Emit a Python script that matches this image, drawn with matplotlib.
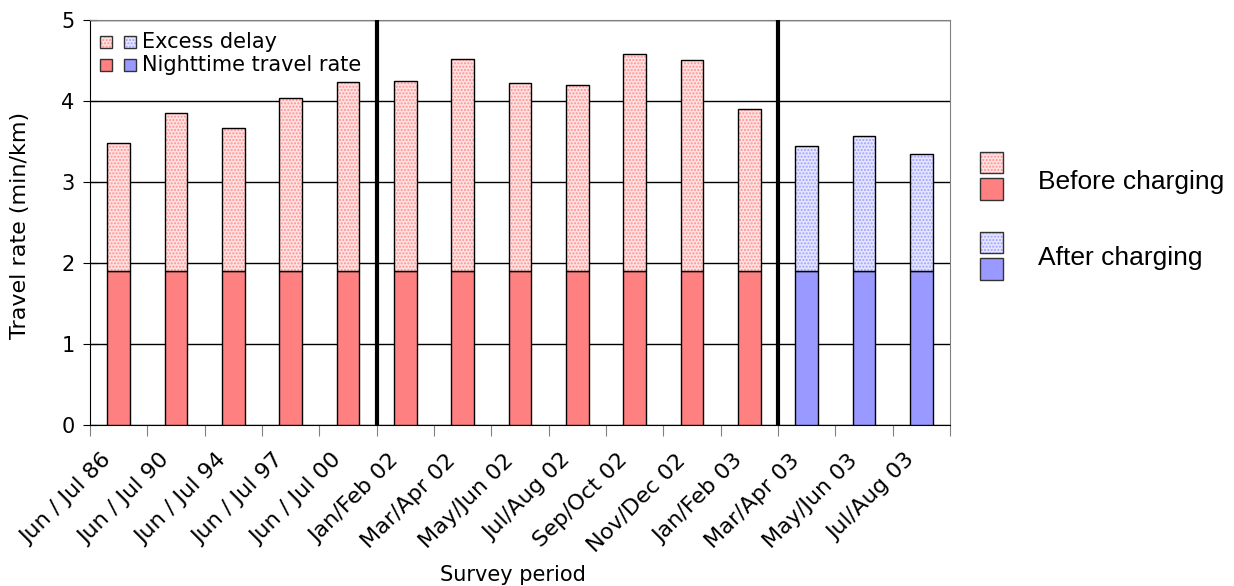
import matplotlib
matplotlib.use("Agg")
import matplotlib.pyplot as plt
from matplotlib.patches import Rectangle
import numpy as np

categories = ["Jun / Jul 86", "Jun / Jul 90", "Jun / Jul 94", "Jun / Jul 97", "Jun / Jul 00",
              "Jan/Feb 02", "Mar/Apr 02", "May/Jun 02", "Jul/Aug 02", "Sep/Oct 02",
              "Nov/Dec 02", "Jan/Feb 03", "Mar/Apr 03", "May/Jun 03", "Jul/Aug 03"]
totals = [3.48, 3.85, 3.67, 4.04, 4.24, 4.25, 4.52, 4.22, 4.20, 4.58, 4.51, 3.90, 3.45, 3.57, 3.34]
night = [1.9] * 15
after = [False] * 12 + [True] * 3

plt.rcParams['font.family'] = ['DejaVu Sans']
plt.rcParams['hatch.linewidth'] = 1.0
fig = plt.figure(figsize=(12.34, 5.86), dpi=100)
ax = fig.add_axes([90/1234, 1-425/586, 860/1234, 405/586])

x = np.arange(len(categories))
excess = [t - n for t, n in zip(totals, night)]
solid_c = ['#9999FF' if a else '#FF8080' for a in after]
light_c = ['#E6E6FF' if a else '#FFE2E2' for a in after]
hatch_c = ['#A0A0FF' if a else '#FF9090' for a in after]
for i in range(len(x)):
    ax.bar(x[i], night[i], width=0.4, color=solid_c[i], edgecolor='black', linewidth=1, zorder=3)
    ax.bar(x[i], excess[i], bottom=night[i], width=0.4, facecolor=light_c[i], edgecolor=hatch_c[i],
           hatch='.....', linewidth=0, zorder=3)
    ax.bar(x[i], excess[i], bottom=night[i], width=0.4, facecolor='none', edgecolor='black',
           linewidth=1, zorder=3.5)

ax.set_xlim(-0.5, len(x) - 0.5)
ax.set_ylim(0, 5)
ax.set_yticks([0, 1, 2, 3, 4, 5])
ax.yaxis.grid(True, color='black', linewidth=1, zorder=1)
ax.set_xticks(np.arange(-0.5, len(x) + 0.5, 1))
ax.set_xticklabels([])
ax.set_xticks(x - 0.3, minor=True)
ax.set_xticklabels(categories, minor=True, rotation=45, ha='right', rotation_mode='anchor', fontsize=16)
ax.tick_params(axis='x', which='minor', length=0, pad=18)
ax.tick_params(axis='x', which='major', length=8, direction='out', color='#808080')
ax.tick_params(axis='y', direction='inout', length=10, labelsize=15, pad=6)
for s in ['top', 'right']:
    ax.spines[s].set_color('#808080')
ax.spines['bottom'].set_color('black')
ax.spines['left'].set_color('black')

ax.axvline(4.5, color='black', linewidth=3, zorder=4)
ax.axvline(11.5, color='black', linewidth=3, zorder=4)

fig.text(20/1234, 1-225/586, "Travel rate (min/km)", fontsize=16, rotation=90, va='center', ha='center')
fig.text(513/1234, 1-575/586, "Survey period", fontsize=15, va='center', ha='center')

def fig_rect(x0, y0, w, h, face, hatch=None, hc=None):
    if hatch:
        fig.patches.append(Rectangle((x0/1234, 1-(y0+h)/586), w/1234, h/586, transform=fig.transFigure,
                                     facecolor=face, edgecolor=hc, hatch=hatch, linewidth=0, zorder=5))
        fig.patches.append(Rectangle((x0/1234, 1-(y0+h)/586), w/1234, h/586, transform=fig.transFigure,
                                     facecolor='none', edgecolor='#333333', linewidth=1, zorder=5.5))
    else:
        fig.patches.append(Rectangle((x0/1234, 1-(y0+h)/586), w/1234, h/586, transform=fig.transFigure,
                                     facecolor=face, edgecolor='#333333', linewidth=1, zorder=5))

# top-left legend
fig_rect(100, 36, 12, 12, '#FFE2E2', '.....', '#FF9090')
fig_rect(124, 36, 12, 12, '#E6E6FF', '.....', '#A0A0FF')
fig_rect(100, 59, 12, 12, '#FF8080')
fig_rect(124, 59, 12, 12, '#9999FF')
fig.text(142/1234, 1-42/586, "Excess delay", fontsize=15, va='center', ha='left')
fig.text(142/1234, 1-65/586, "Nighttime travel rate", fontsize=15, va='center', ha='left')

# right legend
fig_rect(980, 152, 23, 21, '#FFE2E2', '.....', '#FF9090')
fig_rect(980, 178, 23, 22, '#FF8080')
fig_rect(980, 232, 23, 21, '#E6E6FF', '.....', '#A0A0FF')
fig_rect(980, 258, 23, 22, '#9999FF')
fig.text(1038/1234, 1-182/586, "Before charging", fontsize=19, va='center', ha='left', family='Liberation Sans')
fig.text(1038/1234, 1-258/586, "After charging", fontsize=19, va='center', ha='left', family='Liberation Sans')

fig.savefig("out.png", dpi=100)
